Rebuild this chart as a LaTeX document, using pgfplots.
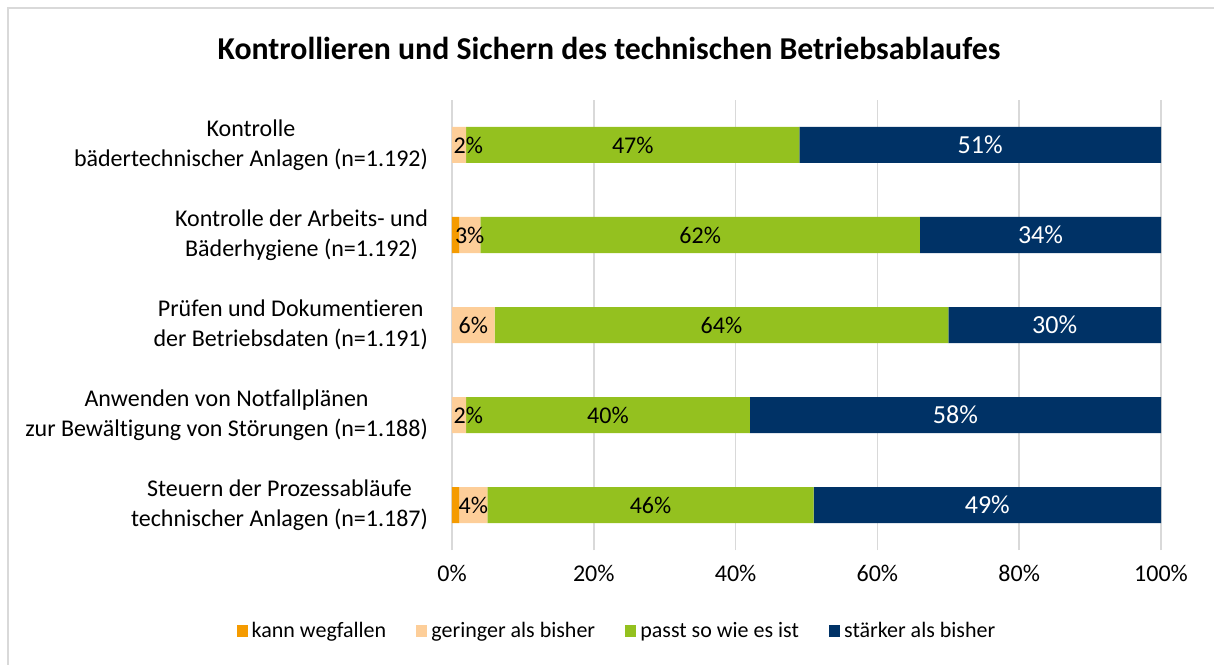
\documentclass[border=0pt]{standalone}
\usepackage{pgfplots}
\pgfplotsset{compat=1.18}
\usepackage{fontspec}
\setmainfont{Carlito}[Ligatures=NoCommon]
\pgfplotsset{/pgf/number format/assume math mode=true}
\definecolor{cKann}{RGB}{245,155,0}
\definecolor{cGer}{RGB}{253,206,153}
\definecolor{cPasst}{RGB}{148,193,31}
\definecolor{cStark}{RGB}{0,50,102}
\definecolor{cGrid}{RGB}{217,217,217}
\begin{document}
\begin{tikzpicture}
\useasboundingbox (-226pt,-57pt) rectangle (381pt,275pt);
\draw[cGrid, line width=1pt] (-222.2pt,-70pt) -- (-222.2pt,271.2pt) -- (390pt,271.2pt);
\node[font=\fontsize{15.9}{18}\selectfont\bfseries] at (78.5pt,251pt) {Kontrollieren und Sichern des technischen Betriebsablaufes};
\begin{axis}[
  at={(0,22.5pt)}, anchor=origin,
  scale only axis, width=354.5pt, height=225pt,
  xbar stacked, bar width=18pt,
  xmin=0, xmax=100, ymin=-0.5, ymax=4.5,
  axis line style={draw=none},
  xmajorgrids, grid style={cGrid, line width=0.8pt},
  xtick={0,20,40,60,80,100},
  xticklabel={\pgfmathprintnumber{\tick}\%},
  x tick label style={font=\fontsize{12}{14}\selectfont, yshift=-4pt},
  ytick={0,1,2,3,4},
  yticklabels={{Steuern der Prozessabläufe\\technischer Anlagen (n=1.187)},
               {Anwenden von Notfallplänen\\zur Bewältigung von Störungen (n=1.188)},
               {Prüfen und Dokumentieren\\der Betriebsdaten (n=1.191)},
               {Kontrolle der Arbeits- und\\Bäderhygiene (n=1.192)},
               {Kontrolle\\bädertechnischer Anlagen (n=1.192)}},
  y tick label style={align=center, font=\fontsize{12}{15}\selectfont, xshift=-8.5pt},
  major tick length=0pt,
  clip=false,
  legend style={at={(0.234,-0.18)}, anchor=center, draw=none, fill=none,
    legend columns=4, font=\fontsize{11}{13}\selectfont,
    /tikz/every even column/.append style={column sep=13pt}},
  legend cell align=left,
]
\addplot[fill=cKann, draw=none, legend image code/.code={\fill[cKann] (0pt,-2.8pt) rectangle (5.6pt,2.8pt);}] coordinates {(1,0) (0,1) (0,2) (1,3) (0,4)};
\addlegendentry{kann wegfallen}
\addplot[fill=cGer, draw=none, legend image code/.code={\fill[cGer] (0pt,-2.8pt) rectangle (5.6pt,2.8pt);}] coordinates {(4,0) (2,1) (6,2) (3,3) (2,4)};
\addlegendentry{geringer als bisher}
\addplot[fill=cPasst, draw=none, legend image code/.code={\fill[cPasst] (0pt,-2.8pt) rectangle (5.6pt,2.8pt);}] coordinates {(46,0) (40,1) (64,2) (62,3) (47,4)};
\addlegendentry{passt so wie es ist}
\addplot[fill=cStark, draw=none, legend image code/.code={\fill[cStark] (0pt,-2.8pt) rectangle (5.6pt,2.8pt);}] coordinates {(49,0) (58,1) (30,2) (34,3) (51,4)};
\addlegendentry{stärker als bisher}
\end{axis}
\begin{axis}[
  at={(0,22.5pt)}, anchor=origin,
  scale only axis, width=354.5pt, height=225pt,
  xmin=0, xmax=100, ymin=-0.5, ymax=4.5,
  hide axis, clip=false,
]
\addplot[draw=none, mark=none, nodes near coords={\pgfmathprintnumber{\pgfplotspointmeta}\%},
  point meta=explicit,
  nodes near coords style={anchor=center, font=\fontsize{12}{14}\selectfont, text=black}]
  table[meta=v] {
x y v
3 0 4
28 0 46
2.3 1 2
22 1 40
3 2 6
38 2 64
2.5 3 3
35 3 62
2.3 4 2
25.5 4 47
};
\addplot[draw=none, mark=none, nodes near coords={\pgfmathprintnumber{\pgfplotspointmeta}\%},
  point meta=explicit,
  nodes near coords style={anchor=center, font=\fontsize{13}{15}\selectfont, text=white}]
  table[meta=v] {
x y v
75.5 0 49
71 1 58
85 2 30
83 3 34
74.5 4 51
};
\end{axis}
\end{tikzpicture}
\end{document}
